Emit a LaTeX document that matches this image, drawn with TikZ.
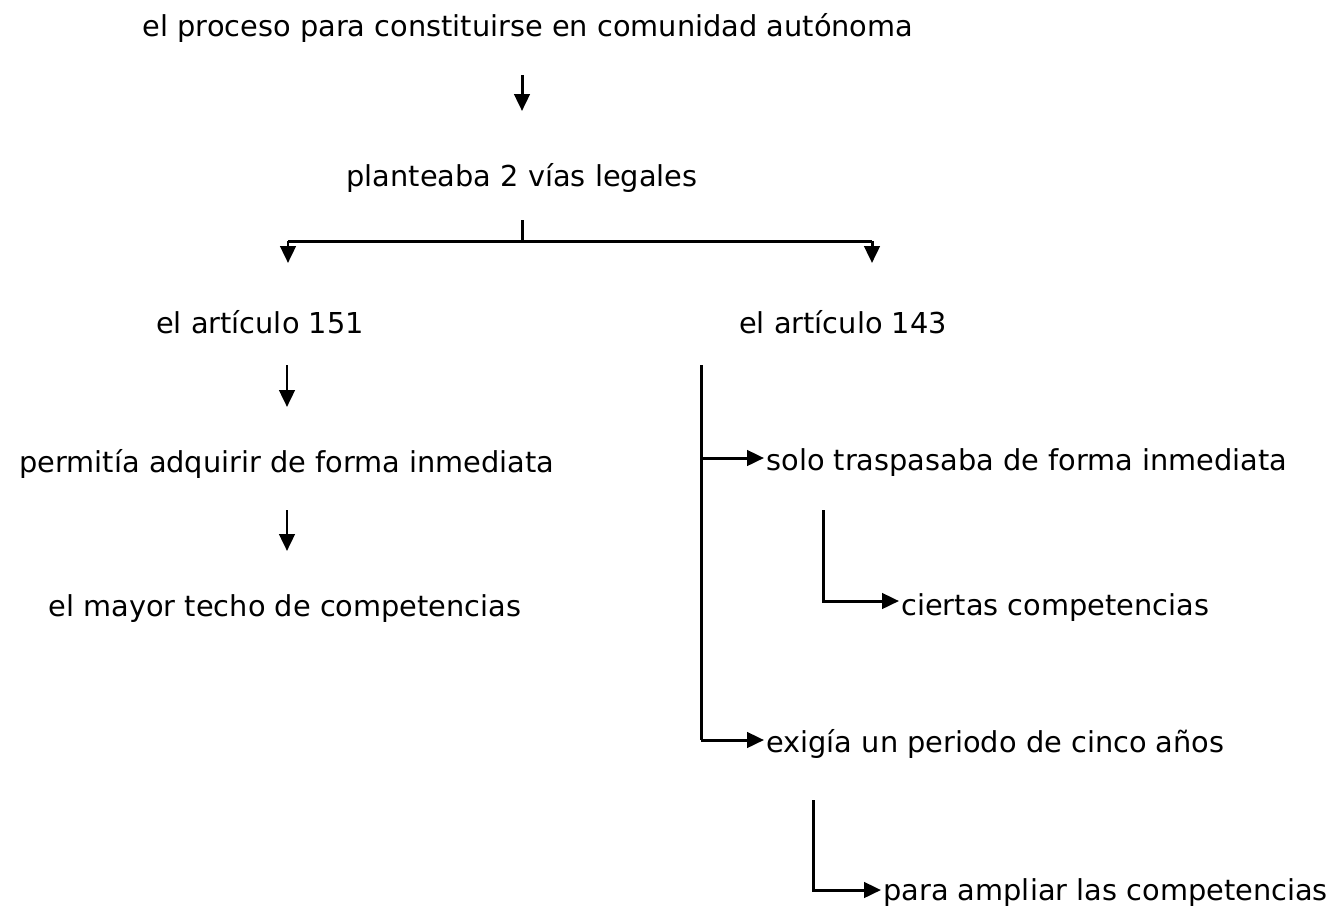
\documentclass[tikz,border=0pt]{standalone}
\usepackage{fontspec}
\setmainfont{DejaVu Sans}
\usetikzlibrary{arrows.meta}
\tikzset{
  lbl/.style={inner sep=0pt, font=\fontsize{16.4}{20}\selectfont},
  conn/.style={line width=1.7pt},
  arr/.style={conn, -{Triangle[length=0.34cm,width=0.31cm]}}
}
\begin{document}
\begin{tikzpicture}[x=0.02cm,y=-0.02cm]
\useasboundingbox (0,0) rectangle (1344,910);
% texts
\node[lbl, anchor=base] (t1) at (528,36) {el proceso para constituirse en comunidad autónoma};
\node[lbl, anchor=base] (t2) at (522,186) {planteaba 2 vías legales};
\node[lbl, anchor=base] (a151) at (260,333) {el artículo 151};
\node[lbl, anchor=base] (a143) at (843,333) {el artículo 143};
\node[lbl, anchor=base] (perm) at (287,472) {permitía adquirir de forma inmediata};
\node[lbl, anchor=base] (mayor) at (285,616) {el mayor techo de competencias};
\node[lbl, anchor=base west] (solo) at (766,470) {solo traspasaba de forma inmediata};
\node[lbl, anchor=base west] (ciertas) at (901,615) {ciertas competencias};
\node[lbl, anchor=base west] (exigia) at (766,752) {exigía un periodo de cinco años};
\node[lbl, anchor=base west] (para) at (883,900) {para ampliar las competencias};
% coordinates
\coordinate (c1s) at (522,75);
\coordinate (c1e) at (522,111);
\coordinate (b0) at (522,220);
\coordinate (bl) at (288,241);
\coordinate (br) at (872,241);
\coordinate (c2s) at (287,365);
\coordinate (c2e) at (287,407);
\coordinate (c3s) at (287,510);
\coordinate (c3e) at (287,551);
\coordinate (r1) at (701,365);
\coordinate (r2) at (823,510);
\coordinate (r3) at (813,800);
\coordinate (y1) at (0,458);
\coordinate (y2) at (0,601);
\coordinate (y3) at (0,740);
\coordinate (y4) at (0,890);
% connectors
\draw[arr] (c1s) -- (c1e);
\draw[conn] (b0) -- (b0 |- bl);
\draw[conn] (bl) -- (br);
\draw[arr] (bl) -- ++(0,22);
\draw[arr] (br) -- ++(0,22);
\draw[arr] (c2s) -- (c2e);
\draw[arr] (c3s) -- (c3e);
\draw[conn] (r1) -- (r1 |- y3);
\draw[arr] (r1 |- y1) -- ([xshift=-0.04cm]solo.west |- y1);
\draw[arr] (r1 |- y3) -- ([xshift=-0.04cm]exigia.west |- y3);
\draw[arr] (r2) |- ([xshift=-0.04cm]ciertas.west |- y2);
\draw[arr] (r3) |- ([xshift=-0.04cm]para.west |- y4);
\end{tikzpicture}
\end{document}
